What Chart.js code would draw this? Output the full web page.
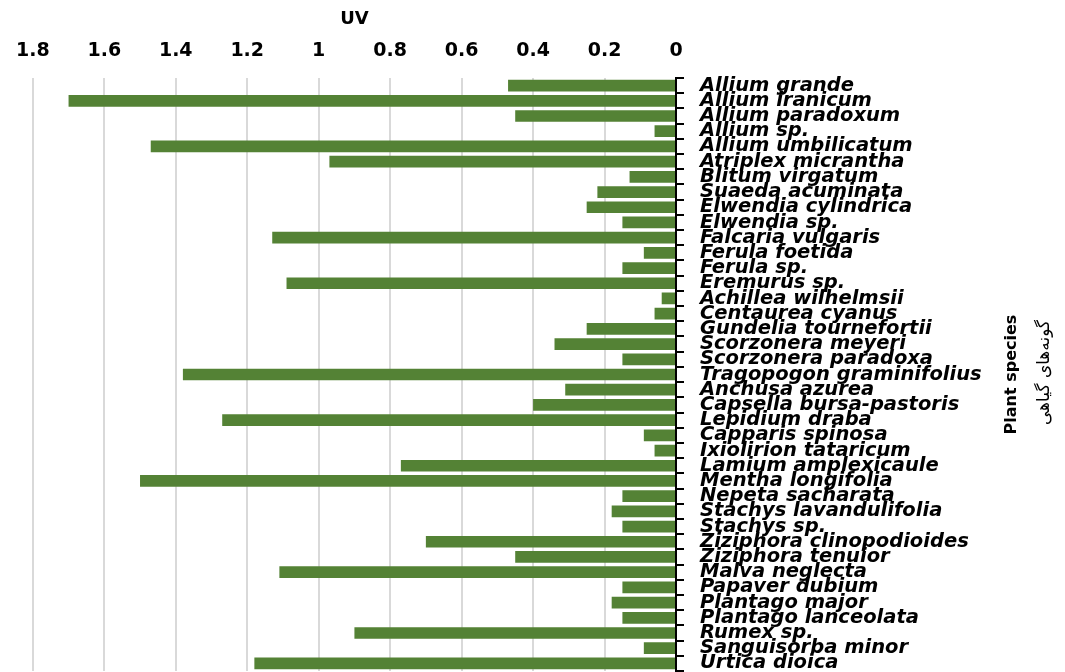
<!DOCTYPE html>
<html lang="en">
<head>
    <meta charset="UTF-8">
    <title>UV of plant species</title>
    <script src="https://cdn.jsdelivr.net/npm/chart.js"></script>
    <style>
        body { margin: 0; background: #fff; }
        #wrap { width: 1065px; height: 672px; position: relative; }
    </style>
</head>
<body>
    <div id="wrap"><canvas id="myChart"></canvas></div>

    <script>
        // species names (top to bottom) and their UV values
        const species = [
            'Allium grande', 'Allium iranicum', 'Allium paradoxum', 'Allium sp.',
            'Allium umbilicatum', 'Atriplex micrantha', 'Blitum virgatum', 'Suaeda acuminata',
            'Elwendia cylindrica', 'Elwendia sp.', 'Falcaria vulgaris', 'Ferula foetida',
            'Ferula sp.', 'Eremurus sp.', 'Achillea wilhelmsii', 'Centaurea cyanus',
            'Gundelia tournefortii', 'Scorzonera meyeri', 'Scorzonera paradoxa',
            'Tragopogon graminifolius', 'Anchusa azurea', 'Capsella bursa-pastoris',
            'Lepidium draba', 'Capparis spinosa', 'Ixiolirion tataricum', 'Lamium amplexicaule',
            'Mentha longifolia', 'Nepeta sacharata', 'Stachys lavandulifolia', 'Stachys sp.',
            'Ziziphora clinopodioides', 'Ziziphora tenuior', 'Malva neglecta', 'Papaver dubium',
            'Plantago major', 'Plantago lanceolata', 'Rumex sp.', 'Sanguisorba minor', 'Urtica dioica'
        ];
        const uvValues = [
            0.47, 1.70, 0.45, 0.06,
            1.47, 0.97, 0.13, 0.22,
            0.25, 0.15, 1.13, 0.09,
            0.15, 1.09, 0.04, 0.06,
            0.25, 0.34, 0.15,
            1.38, 0.31, 0.40,
            1.27, 0.09, 0.06, 0.77,
            1.50, 0.15, 0.18, 0.15,
            0.70, 0.45, 1.11, 0.15,
            0.18, 0.15, 0.90, 0.09, 1.18
        ];
        const xTitle = 'UV';
        const yTitleEn = 'Plant species';
        const yTitleFa = 'گونه‌های گیاهی';

        // rotated titles on the right side (read bottom to top)
        const sideTitles = {
            id: 'sideTitles',
            afterDraw(chart) {
                const c = chart.ctx;
                const midY = (chart.chartArea.top + chart.chartArea.bottom) / 2;
                c.save();
                c.fillStyle = '#000';
                c.textAlign = 'center';
                c.textBaseline = 'middle';
                c.translate(1012, midY);
                c.rotate(-Math.PI / 2);
                c.font = 'bold 16px "DejaVu Sans"';
                c.fillText(yTitleEn, 0, 0);
                c.restore();

                c.save();
                c.fillStyle = '#000';
                c.textAlign = 'center';
                c.textBaseline = 'middle';
                c.translate(1045, midY - 2);
                c.rotate(-Math.PI / 2);
                c.font = '17px "DejaVu Sans"';
                c.fillText(yTitleFa, 0, 0);
                c.restore();
            }
        };

        const ctx = document.getElementById('myChart').getContext('2d');
        const myChart = new Chart(ctx, {
            type: 'bar',
            data: {
                labels: species,
                datasets: [{
                    label: xTitle,
                    data: uvValues,
                    backgroundColor: '#548235',
                    borderWidth: 0,
                    barPercentage: 0.77,
                    categoryPercentage: 1.0
                }]
            },
            options: {
                indexAxis: 'y',
                responsive: true,
                maintainAspectRatio: false,
                animation: false,
                layout: { padding: { left: 30, right: 0, top: 0, bottom: 1 } },
                plugins: {
                    legend: { display: false },
                    tooltip: { enabled: false }
                },
                scales: {
                    x: {
                        position: 'top',
                        reverse: true,
                        min: 0,
                        max: 1.8,
                        ticks: {
                            stepSize: 0.2,
                            color: '#000',
                            padding: 16,
                            font: { family: 'DejaVu Sans', size: 19, weight: 'bold' },
                            callback: v => String(Number(v.toFixed(1)))
                        },
                        grid: { color: '#d9d9d9', lineWidth: 2, drawTicks: false },
                        border: { display: false },
                        title: {
                            display: true,
                            text: xTitle,
                            color: '#000',
                            font: { family: 'DejaVu Sans', size: 18, weight: 'bold' },
                            padding: { top: 9, bottom: 0 }
                        },
                        afterFit: s => { s.height = 78; }
                    },
                    y: {
                        position: 'right',
                        ticks: {
                            autoSkip: false,
                            color: '#000',
                            padding: 16,
                            font: { family: 'DejaVu Sans', size: 19.5, weight: 'bold', style: 'italic' }
                        },
                        grid: {
                            drawOnChartArea: false,
                            color: '#000',
                            lineWidth: 2,
                            tickLength: 8
                        },
                        border: { display: true, color: '#000', width: 2 },
                        afterFit: s => {
                            s.width = 389;
                            s.paddingTop = 0;
                            s.paddingBottom = 0;
                        }
                    }
                }
            },
            plugins: [sideTitles]
        });
    </script>
</body>
</html>
